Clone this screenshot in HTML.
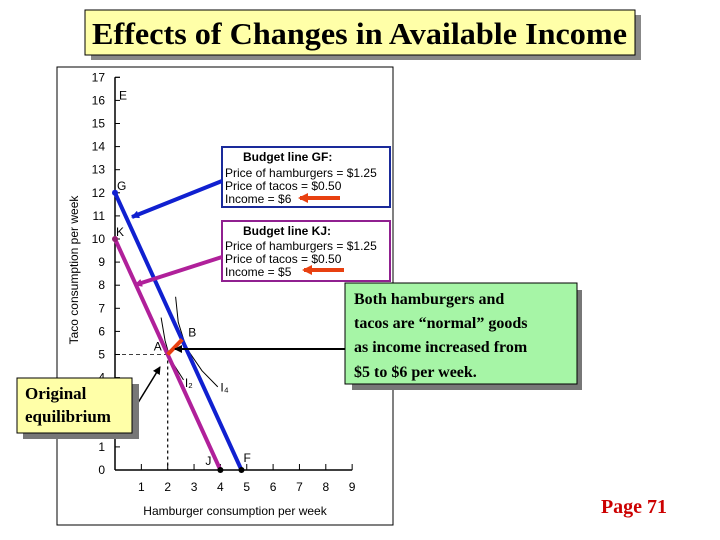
<!DOCTYPE html>
<html><head><meta charset="utf-8"><style>
body{margin:0;background:#fff;width:720px;height:540px;overflow:hidden}
svg{display:block}
</style></head><body>
<svg width="720" height="540" xmlns="http://www.w3.org/2000/svg">
<defs>
<marker id="ab" markerWidth="8" markerHeight="8" refX="7" refY="4" orient="auto" markerUnits="userSpaceOnUse"><path d="M0,0 L8,4 L0,8 z" fill="#1020d0"/></marker>
<marker id="ap" markerWidth="8" markerHeight="8" refX="7" refY="4" orient="auto" markerUnits="userSpaceOnUse"><path d="M0,0 L8,4 L0,8 z" fill="#b0209a"/></marker>
<marker id="ak" markerWidth="8" markerHeight="8" refX="7" refY="4" orient="auto" markerUnits="userSpaceOnUse"><path d="M0,0 L8,4 L0,8 z" fill="#000"/></marker>
<marker id="ar" markerWidth="10" markerHeight="10" refX="8" refY="5" orient="auto" markerUnits="userSpaceOnUse"><path d="M0,0 L10,5 L0,10 z" fill="#e84010"/></marker>
</defs>
<g>
<rect x="91" y="15" width="550" height="45" fill="#888"/>
<rect x="85" y="10" width="550" height="45" fill="#ffffa8" stroke="#000"/>
<text x="92" y="44" textLength="535" lengthAdjust="spacingAndGlyphs" font-family="Liberation Serif, serif" font-weight="bold" font-size="31">Effects of Changes in Available Income</text>
</g>
<rect x="57" y="67" width="336" height="458" fill="#fff" stroke="#000"/>
<g id="chart"></g>
<g>
<rect x="222" y="147" width="168" height="60" fill="#fff" stroke="#1a2a9a" stroke-width="2"/>
<g font-family="Liberation Sans, sans-serif" font-size="12">
<text x="243" y="161" font-weight="bold">Budget line GF:</text>
<text x="225" y="177">Price of hamburgers = $1.25</text>
<text x="225" y="190">Price of tacos = $0.50</text>
<text x="225" y="203">Income = $6</text>
</g>
<line x1="340" y1="198" x2="300" y2="198" stroke="#e84010" stroke-width="4" marker-end="url(#ar)"/>
</g>
<g>
<rect x="222" y="221" width="168" height="60" fill="#fff" stroke="#902090" stroke-width="2"/>
<g font-family="Liberation Sans, sans-serif" font-size="12">
<text x="243" y="235" font-weight="bold">Budget line KJ:</text>
<text x="225" y="250">Price of hamburgers = $1.25</text>
<text x="225" y="263">Price of tacos = $0.50</text>
<text x="225" y="276">Income = $5</text>
</g>
<line x1="344" y1="270" x2="304" y2="270" stroke="#e84010" stroke-width="4" marker-end="url(#ar)"/>
</g>
<line x1="222" y1="181" x2="132" y2="217" stroke="#1020d0" stroke-width="4" marker-end="url(#ab)"/>
<line x1="222" y1="257" x2="135" y2="285" stroke="#b0209a" stroke-width="4" marker-end="url(#ap)"/>
<line x1="345" y1="349" x2="175" y2="349" stroke="#000" stroke-width="2" marker-end="url(#ak)"/>
<line x1="136" y1="406" x2="160" y2="367" stroke="#000" stroke-width="1.5" marker-end="url(#ak)"/>
<g>
<rect x="352" y="290" width="230" height="100" fill="#777"/>
<rect x="345" y="283" width="232" height="101" fill="#a6f5a6" stroke="#000"/>
<g font-family="Liberation Serif, serif" font-weight="bold" font-size="16">
<text x="354" y="304">Both hamburgers and</text>
<text x="354" y="328">tacos are “normal” goods</text>
<text x="354" y="352">as income increased from</text>
<text x="354" y="377">$5 to $6 per week.</text>
</g>
</g>
<g>
<rect x="23" y="384" width="116" height="55" fill="#777"/>
<rect x="17" y="378" width="115" height="55" fill="#ffffa8" stroke="#000"/>
<g font-family="Liberation Serif, serif" font-weight="bold" font-size="17">
<text x="25" y="399">Original</text>
<text x="25" y="422">equilibrium</text>
</g>
</g>
<text x="634" y="513" text-anchor="middle" fill="#cc0000" font-family="Liberation Serif, serif" font-weight="bold" font-size="20">Page 71</text>
</svg>
<script>
const xTicks=[1,2,3,4,5,6,7,8,9];
const yTicks=[0,1,2,3,4,5,6,7,8,9,10,11,12,13,14,15,16,17];
const lineGF=[[0,12],[4.8,0]];
const lineKJ=[[0,10],[4,0]];
const pointA=[2,5];
const pointB=[2.55,5.65];
const curveI2=[[1.75,6.6],[1.9,5.6],[2.1,4.8],[2.6,3.9]];
const curveI4=[[2.3,7.5],[2.4,6.4],[2.7,5.3],[3.3,4.3],[3.9,3.6]];
const NS='http://www.w3.org/2000/svg';
const X=v=>115+v*26.35, Y=v=>470-v*23.1;
const g=document.getElementById('chart');
function mk(t,a,txt){const e=document.createElementNS(NS,t);for(const k in a)e.setAttribute(k,a[k]);if(txt!=null)e.textContent=txt;g.appendChild(e);return e;}
let e;
e=mk('line',{x1:X(0),y1:Y(0),x2:X(9),y2:Y(0),stroke:'#000','stroke-width':1.5});


e=mk('line',{x1:X(0),y1:Y(0),x2:X(0),y2:Y(17),stroke:'#000','stroke-width':1.5});


mk('line',{x1:X(0),y1:Y(17),x2:X(0)+5,y2:Y(17),stroke:'#000'});
xTicks.forEach(v=>{mk('line',{x1:X(v),y1:Y(0),x2:X(v),y2:Y(0)-6,stroke:'#000'});
e=mk('text',{x:X(v),y:491,'text-anchor':'middle','font-family':'Liberation Sans, sans-serif','font-size':12},v);

});
yTicks.forEach(v=>{if(v>0)mk('line',{x1:X(0),y1:Y(v),x2:X(0)+5,y2:Y(v),stroke:'#000'});
e=mk('text',{x:105,y:Y(v)+4,'text-anchor':'end','font-family':'Liberation Sans, sans-serif','font-size':12},v);

});
e=mk('text',{x:235,y:515,'text-anchor':'middle','font-family':'Liberation Sans, sans-serif','font-size':12},'Hamburger consumption per week');


e=mk('text',{x:78,y:270,'text-anchor':'middle','font-family':'Liberation Sans, sans-serif','font-size':12,transform:'rotate(-90 78 270)'},'Taco consumption per week');


mk('line',{x1:X(0),y1:Y(pointA[1]),x2:X(pointA[0]),y2:Y(pointA[1]),stroke:'#000','stroke-dasharray':'4,3','stroke-width':0.8});
mk('line',{x1:X(pointA[0]),y1:Y(pointA[1]),x2:X(pointA[0]),y2:Y(0),stroke:'#000','stroke-dasharray':'3,3','stroke-width':1.2});
const path=p=>p.map((q,i)=>(i?'L':'M')+X(q[0])+','+Y(q[1])).join(' ');
e=mk('path',{d:path(curveI2),fill:'none',stroke:'#000','stroke-width':1});


e=mk('path',{d:path(curveI4),fill:'none',stroke:'#000','stroke-width':1});


e=mk('path',{d:path(lineKJ),stroke:'#b0209a','stroke-width':4});


e=mk('path',{d:path(lineGF),stroke:'#1020d0','stroke-width':4});


e=mk('line',{x1:X(pointA[0]),y1:Y(pointA[1]),x2:X(pointB[0]),y2:Y(pointB[1]),stroke:'#e84010','stroke-width':4});


[[lineGF[0],'#1020d0'],[lineKJ[0],'#902070'],[lineKJ[1],'#000'],[lineGF[1],'#000']].forEach(([p,c])=>mk('circle',{cx:X(p[0]),cy:Y(p[1]),r:3,fill:c}));
const lab=(t,x,y,n)=>{const el=mk('text',{x:x,y:y,'font-family':'Liberation Sans, sans-serif','font-size':12},t);};
lab('E',X(0)+4,Y(16)-1,'label-e');
lab('G',X(0)+2,Y(lineGF[0][1])-3,'label-g');
lab('K',X(0)+1,Y(lineKJ[0][1])-3,'label-k');
lab('A',X(pointA[0])-14,Y(pointA[1])-4,'label-a');
lab('B',X(pointB[0])+6,Y(pointB[1])-3,'label-b');
lab('J',X(lineKJ[1][0])-15,Y(0)-5,'label-j');
lab('F',X(lineGF[1][0])+2,Y(0)-8,'label-f');
lab('I₂',X(2.65),Y(3.6),'label-i2');
lab('I₄',X(4.0),Y(3.4),'label-i4');
</script>
</body></html>
